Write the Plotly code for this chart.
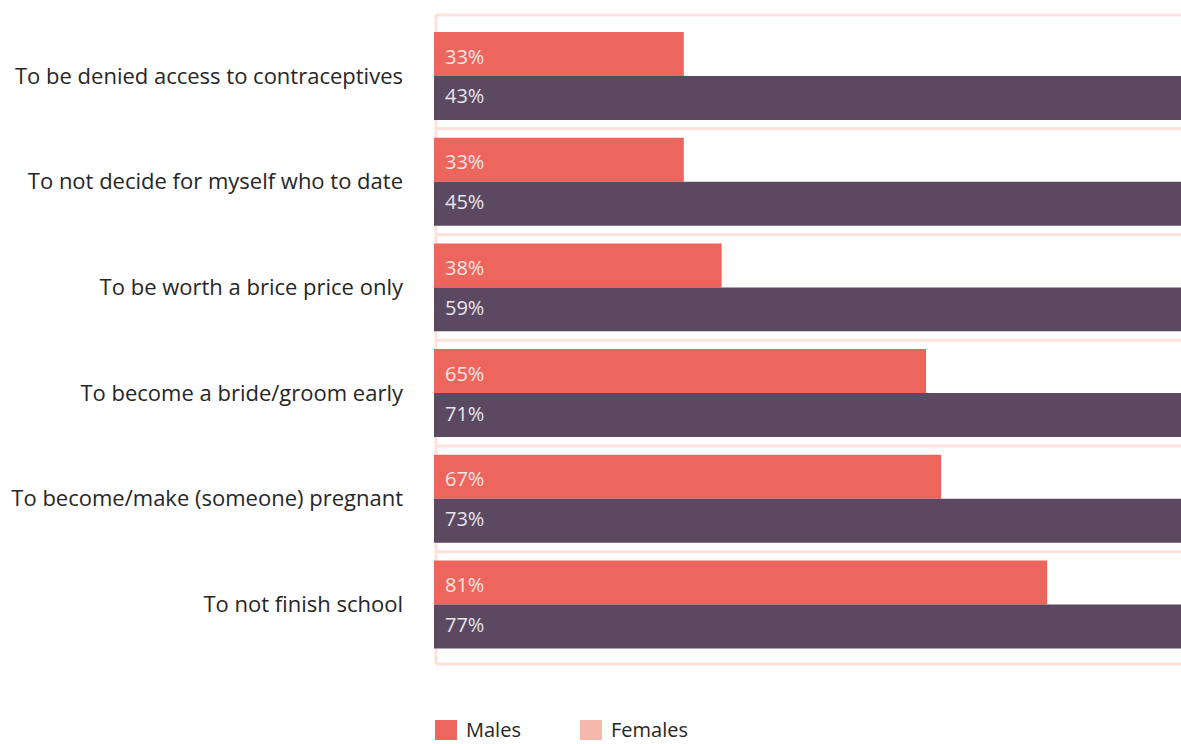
import plotly.graph_objects as go

categories = [
    "To be denied access to contraceptives",
    "To not decide for myself who to date",
    "To be worth a brice price only",
    "To become a bride/groom early",
    "To become/make (someone) pregnant",
    "To not finish school",
]
males_pct = [33, 33, 38, 65, 67, 81]
females_pct = [43, 45, 59, 71, 73, 77]
legend_labels = ["Males", "Females"]

MALE_C = "#EC665E"
FEMALE_BAR_C = "#5B4861"
FEMALE_LEG_C = "#F6B8AA"
GRID_C = "#FDE1DB"
FONT = "Open Sans"

W, H = 1181, 744
L, R, T, B = 434, 0, 15, 80
PW, PH = W - L - R, H - T - B
BAR_W = 0.416
Y_RANGE = [len(categories) - 1 + 0.563, -0.577]
PITCH = PH / (Y_RANGE[0] - Y_RANGE[1])

fig = go.Figure()
fig.add_trace(go.Bar(
    y=categories, x=males_pct, orientation="h", name="Males",
    marker=dict(color=MALE_C, line=dict(width=0)),
    width=BAR_W, offset=-BAR_W, xaxis="x", yaxis="y", showlegend=False,
    hovertemplate="%{y}: %{x}%<extra>Males</extra>",
))
fig.add_trace(go.Bar(
    y=categories, x=females_pct, orientation="h", name="Females",
    marker=dict(color=FEMALE_BAR_C, line=dict(width=0)),
    width=BAR_W, offset=0, xaxis="x2", yaxis="y", showlegend=False,
    hovertemplate="%{y}: %{x}%<extra>Females</extra>",
))

annotations = []
shift = BAR_W / 2 * PITCH - 2
for cat, m, f in zip(categories, males_pct, females_pct):
    annotations.append(dict(x=0, y=cat, xref="x", yref="y", text=f"{m}%", showarrow=False,
                            xanchor="left", yanchor="middle", xshift=9, yshift=shift,
                            font=dict(family=FONT, size=20, color="#FDE5E2")))
    annotations.append(dict(x=0, y=cat, xref="x", yref="y", text=f"{f}%", showarrow=False,
                            xanchor="left", yanchor="middle", xshift=9, yshift=-shift,
                            font=dict(family=FONT, size=20, color="#E9E3EC")))

shapes = []
lw = 3
px = lambda p: (p - L) / PW
py = lambda p: (T + PH - p) / PH
shapes.append(dict(type="line", xref="paper", yref="paper", x0=px(436), x1=1.01, y0=1, y1=1,
                   line=dict(color=GRID_C, width=lw), layer="below"))
shapes.append(dict(type="line", xref="paper", yref="paper", x0=px(436), x1=1.01, y0=0, y1=0,
                   line=dict(color=GRID_C, width=lw), layer="below"))
shapes.append(dict(type="line", xref="paper", yref="paper", x0=px(436), x1=px(436), y0=0, y1=1,
                   line=dict(color=GRID_C, width=lw), layer="below"))
for i in range(len(categories) - 1):
    shapes.append(dict(type="line", xref="paper", yref="y", x0=px(436), x1=1.01, y0=i + 0.5, y1=i + 0.5,
                       line=dict(color=GRID_C, width=lw), layer="below"))

# custom legend
leg = [(legend_labels[0], MALE_C, 435), (legend_labels[1], FEMALE_LEG_C, 580)]
for name, col, x0 in leg:
    shapes.append(dict(type="rect", xref="paper", yref="paper", x0=px(x0), x1=px(x0 + 22),
                       y0=py(720), y1=py(740), fillcolor=col, line=dict(width=0)))
    annotations.append(dict(x=px(x0 + 29), y=py(729), xref="paper", yref="paper", text=name,
                            showarrow=False, xanchor="left", yanchor="middle",
                            font=dict(family=FONT, size=20, color="#262626")))

fig.update_layout(
    width=W, height=H,
    margin=dict(l=L, r=R, t=T, b=B, pad=0),
    paper_bgcolor="white", plot_bgcolor="white",
    barmode="overlay",
    showlegend=False,
    xaxis=dict(range=[0, PW / 7.57], visible=False, fixedrange=True),
    xaxis2=dict(range=[0, min(females_pct)], overlaying="x", visible=False, fixedrange=True),
    yaxis=dict(type="category", categoryorder="array", categoryarray=categories,
               range=Y_RANGE, showgrid=False, zeroline=False, showline=False,
               ticks="", ticklabelstandoff=30,
               tickfont=dict(family=FONT, size=22, color="#262626")),
    shapes=shapes, annotations=annotations,
    font=dict(family=FONT),
)

fig.write_html("out.html")
